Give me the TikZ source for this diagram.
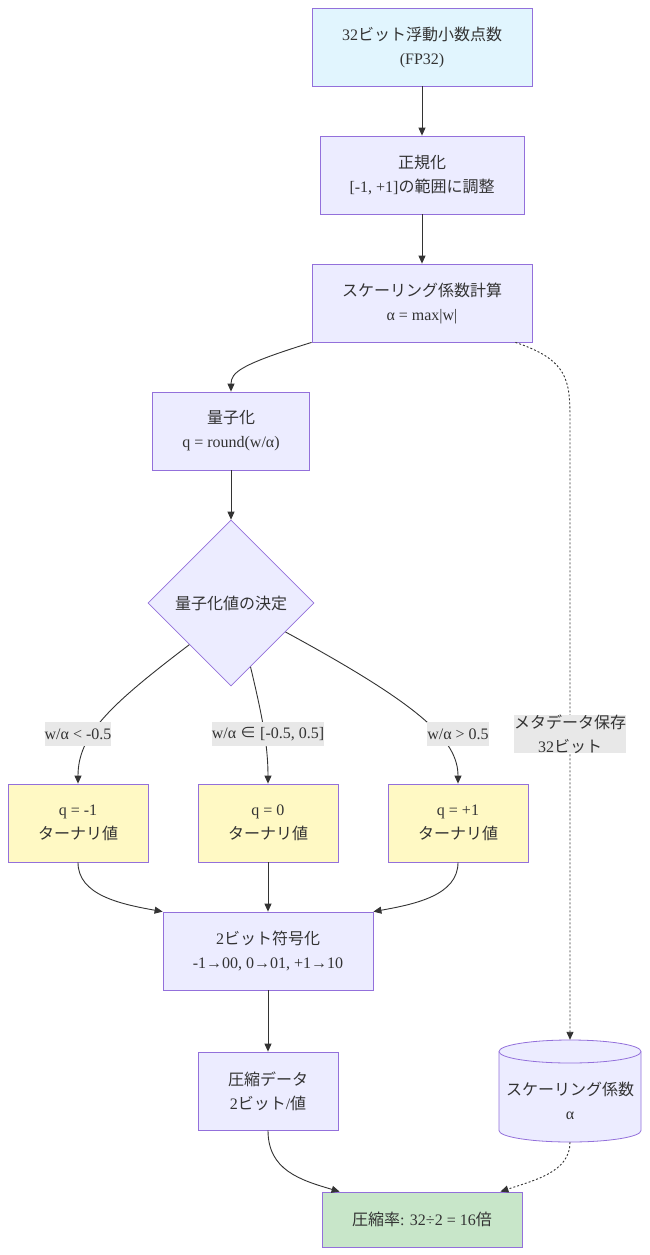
\documentclass[tikz,border=0pt]{standalone}
\usepackage{fontspec}
\setmainfont{Liberation Serif}
\newfontfamily\jp{Noto Sans CJK JP}
\usetikzlibrary{shapes.geometric,arrows.meta}
\definecolor{boxfill}{HTML}{ECECFF}
\definecolor{boxline}{HTML}{9370DB}
\definecolor{bluefill}{HTML}{E1F5FE}
\definecolor{yelfill}{HTML}{FFF9C4}
\definecolor{grnfill}{HTML}{C8E6C9}
\definecolor{ink}{HTML}{333333}
\definecolor{lblfill}{HTML}{E8E8E8}
\begin{document}
\begin{tikzpicture}[x=1pt,y=-1pt,
  font=\fontsize{16}{24}\selectfont, text=ink,
  proc/.style={draw=boxline, line width=0.8pt, fill=boxfill, align=center, inner sep=0pt, minimum height=78pt},
  decide/.style={diamond, draw=boxline, line width=0.7pt, fill=boxfill, inner sep=0pt, minimum width=166pt, minimum height=166pt, aspect=1},
  lbl/.style={fill=lblfill, inner xsep=0pt, inner ysep=0pt, minimum height=24pt, align=center},
  arr/.style={draw=ink, line width=0.9pt, -{Triangle[length=8pt,width=7pt]}},
  dotarr/.style={arr, dash pattern=on 2pt off 2pt}
]
\useasboundingbox[fill=white] (0,0) rectangle (650,1255);

\node[proc, fill=bluefill, minimum width=220pt] (A) at (422,47) {32{\jp ビット浮動小数点数}\\(FP32)};
\node[proc, minimum width=204pt] (B) at (422,175) {{\jp 正規化}\\{[-1, +1]}{\jp の範囲に調整}};
\node[proc, minimum width=220pt] (C) at (422,303) {{\jp スケーリング係数計算}\\α = max|w|};
\node[proc, minimum width=157pt] (D) at (231,431) {{\jp 量子化}\\q = round(w/α)};
\node[decide] (E) at (231,603) {\jp 量子化値の決定};
\node[proc, fill=yelfill, minimum width=140pt] (F1) at (78,823) {q = -1\\{\jp ターナリ値}};
\node[proc, fill=yelfill, minimum width=140pt] (F2) at (268,823) {q = 0\\{\jp ターナリ値}};
\node[proc, fill=yelfill, minimum width=140pt] (F3) at (458,823) {q = +1\\{\jp ターナリ値}};
\node[proc, minimum width=210pt] (G) at (268,951) {2{\jp ビット符号化}\\-1→00, 0→01, +1→10};
\node[proc, minimum width=140pt] (H) at (268,1091) {{\jp 圧縮データ}\\2{\jp ビット}/{\jp 値}};
\node[proc, fill=grnfill, minimum width=200pt, minimum height=55pt] (R) at (422,1219.5) {{\jp 圧縮率}: 32÷2 = 16{\jp 倍}};

% cylinder
\node[minimum width=142pt, minimum height=102pt, inner sep=0pt] (S) at (570,1091) {};
\filldraw[draw=boxline, line width=0.8pt, fill=boxfill]
  (499,1051.5) -- (499,1130.5) arc[start angle=180, end angle=0, x radius=71, y radius=11.5]
  -- (641,1051.5) arc[start angle=0, end angle=-180, x radius=71, y radius=11.5] -- cycle;
\draw[draw=boxline, line width=0.8pt] (499,1051.5) arc[start angle=180, end angle=0, x radius=71, y radius=11.5];
\node[align=center, inner sep=0pt] (St) at (570,1101) {{\jp スケーリング係数}\\α};

% connectors
\draw[arr] (A) -- (B);
\draw[arr] (B) -- (C);
\draw[arr] (C.south west) .. controls (242,364) and (231,372) .. (D.north);
\draw[dotarr] ([xshift=-17pt]C.south east) .. controls (568,360) and (570,380) .. (570,420) -- (S.north);
\draw[arr] (D) -- (E);
\draw[arr] (E.south west) .. controls (110,705) and (78,735) .. (F1.north);
\draw[arr] (E.-73) .. controls (262,715) and (268,745) .. (F2.north);
\draw[arr] (E.-28) .. controls (420,705) and (458,740) .. (F3.north);
\draw[arr] (F1.south) .. controls (78,895) and (120,904) .. (G.north west);
\draw[arr] (F2) -- (G);
\draw[arr] (F3.south) .. controls (458,895) and (416,904) .. (G.north east);
\draw[arr] (G) -- (H);
\draw[arr] (H.south) .. controls (268,1170) and (300,1180) .. ([xshift=18pt]R.north west);
\draw[dotarr] (S.south) .. controls (570,1172) and (535,1180) .. ([xshift=-22pt]R.north east);

% edge labels
\node[lbl] (L1) at (78,734) {w/α < -0.5};
\node[lbl] (L2) at (268,734) {w/α {\jp ∈} [-0.5, 0.5]};
\node[lbl] (L3) at (458,734) {w/α > 0.5};
\node[lbl] (L4) at (570,734) {{\jp メタデータ保存}\\32{\jp ビット}};
\end{tikzpicture}
\end{document}
